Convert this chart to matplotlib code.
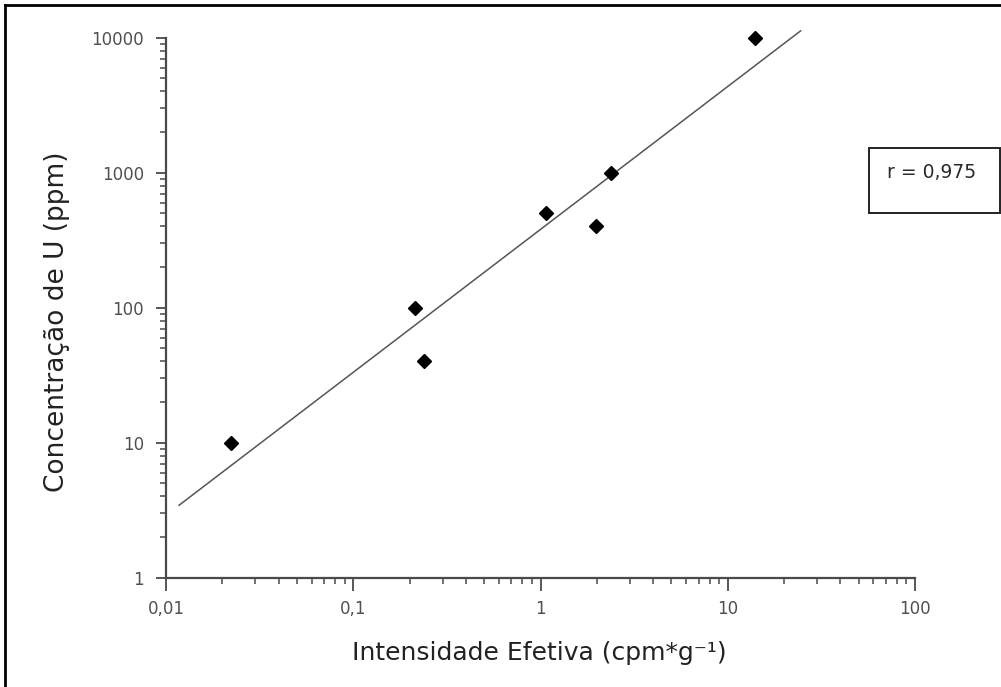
import numpy as np
import matplotlib
matplotlib.use("Agg")
import matplotlib.pyplot as plt
from matplotlib.patches import Rectangle
from matplotlib.lines import Line2D

# ---- data ----
intensidade = [0.0223, 0.215, 0.24, 1.07, 1.99, 2.37, 13.9]
concentracao = [10, 100, 40, 500, 400, 1000, 10000]
fit_range = [0.01175, 24.5]
x_ticks = [0.01, 0.1, 1, 10, 100]
x_ticklabels = ["0,01", "0,1", "1", "10", "100"]
y_ticks = [1, 10, 100, 1000, 10000]
y_ticklabels = ["1", "10", "100", "1000", "10000"]
r_text = "r = 0,975"
xlabel = "Intensidade Efetiva (cpm*g⁻¹)"
ylabel = "Concentração de U (ppm)"

plt.rcParams['font.family'] = ['DejaVu Sans']

W, H = 1001, 687
fig = plt.figure(figsize=(W / 100, H / 100), dpi=100)
fig.patch.set_facecolor("white")

AX_L, AX_R, AX_T, AX_B = 166, 915, 37.7, 577.7
ax = fig.add_axes([AX_L / W, 1 - AX_B / H, (AX_R - AX_L) / W, (AX_B - AX_T) / H])
ax.set_xscale("log")
ax.set_yscale("log")
ax.set_xlim(x_ticks[0], x_ticks[-1])
ax.set_ylim(y_ticks[0], y_ticks[-1])

# regression line in log-log space
lx = np.log10(intensidade)
ly = np.log10(concentracao)
slope, intercept = np.polyfit(lx, ly, 1)
xf = np.array(fit_range)
yf = 10 ** (intercept + slope * np.log10(xf))
ax.plot(xf, yf, color="#555555", lw=1.1, clip_on=False, zorder=2)

ax.plot(intensidade, concentracao, linestyle="none", marker="D", ms=7.5,
        color="black", zorder=3, clip_on=False)

for s in ["top", "right"]:
    ax.spines[s].set_visible(False)
for s in ["left", "bottom"]:
    ax.spines[s].set_color("#4a4a4a")
    ax.spines[s].set_linewidth(1.6)

ax.set_xticks(x_ticks)
ax.set_xticklabels(x_ticklabels)
ax.set_yticks(y_ticks)
ax.set_yticklabels(y_ticklabels)
ax.tick_params(axis="both", which="major", direction="out", color="#4a4a4a",
               labelcolor="#505050", labelsize=12, width=1.3)
ax.tick_params(axis="x", which="major", length=9, pad=7)
ax.tick_params(axis="y", which="major", length=7, pad=9)
ax.tick_params(axis="both", which="minor", direction="out", color="#4a4a4a",
               length=4, width=1.1, labelleft=False, labelbottom=False)

ax.set_xlabel(xlabel, fontsize=18, color="#222222")
ax.set_ylabel(ylabel, fontsize=19, color="#222222")
ax.xaxis.set_label_coords((539 - AX_L) / (AX_R - AX_L), (AX_B - 641) / (AX_B - AX_T))
ax.yaxis.set_label_coords((70 - AX_L) / (AX_R - AX_L), (AX_B - 322) / (AX_B - AX_T))

# r box
fig.patches.append(Rectangle((869 / W, 1 - 213 / H), (1000 - 869) / W, (213 - 148) / H,
                             transform=fig.transFigure, fill=False,
                             edgecolor="#222222", lw=1.4))
fig.text(887 / W, 1 - 172 / H, r_text, fontsize=13.5, color="#2a2a2a",
         ha="left", va="center")

# outer frame (left and top edges)
fig.lines.append(Line2D([5 / W, 5 / W], [0, 1 - 5 / H], transform=fig.transFigure,
                        color="black", lw=2))
fig.lines.append(Line2D([5 / W, 1], [1 - 5 / H, 1 - 5 / H], transform=fig.transFigure,
                        color="black", lw=2))

fig.savefig("out.png", dpi=100, facecolor="white")
